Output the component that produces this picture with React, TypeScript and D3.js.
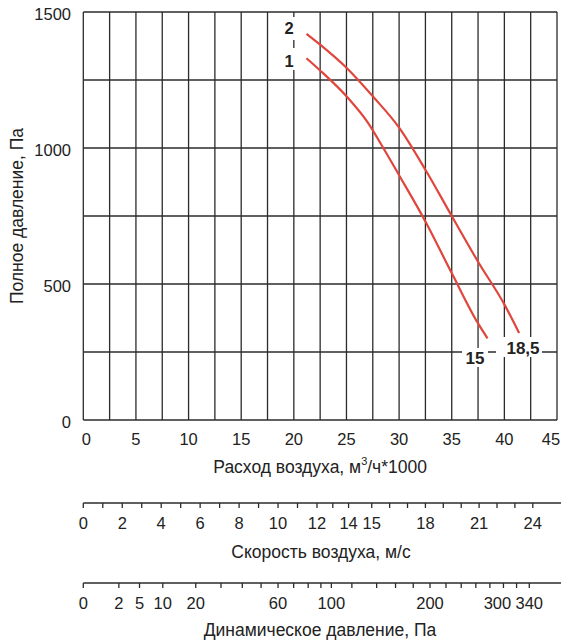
import React from 'react';
import * as d3 from 'd3';

// ---- data ----
const flowLabels = [0, 5, 10, 15, 20, 25, 30, 35, 40, 45];
const flowGrid = [0, 2.5, 5, 7.5, 10, 12.5, 15, 17.5, 20, 22.5, 25, 27.5, 30, 32.5, 35, 37.5, 40, 42.5, 45];
const pressureLabels = [0, 500, 1000, 1500];
const pressureGrid = [0, 250, 500, 750, 1000, 1250, 1500];

// curve "1" (15 kW) and curve "2" (18,5 kW): [flow x1000 m3/h, pressure Pa]
const curve1: [number, number][] = [
  [21.2, 1330], [22.5, 1285], [25, 1190], [27, 1095], [28.5, 1000], [30, 900],
  [32.5, 730], [35, 540], [37.5, 355], [38.4, 300],
];
const curve2: [number, number][] = [
  [21.2, 1420], [22.5, 1380], [25, 1295], [27.5, 1190], [30, 1075], [32.5, 920],
  [35, 750], [37.5, 582], [40, 425], [41.4, 320],
];

// speed axis (m/s) – ticks and the flow value each anchor sits over
const speedTicks = [0, 1, 2, 3, 4, 5, 6, 7, 8, 9, 10, 11, 12, 13, 14, 15, 16, 17, 18, 19, 20, 21, 22, 23, 24];
const speedLabels = [0, 2, 4, 6, 8, 10, 12, 14, 15, 18, 21, 24];
const speedAnchors = [0, 12, 14, 15, 24];
const speedAnchorFlow = [0, 22.2, 25.2, 27.4, 42.7];

// dynamic pressure axis (Pa)
const dynTicks = [0, 2, 5, 10, 20, 30, 40, 50, 60, 70, 80, 90, 100, 120, 140, 160, 180, 200, 220, 240, 260, 280, 300, 320, 340];
const dynLabels = [0, 2, 5, 10, 20, 60, 100, 200, 300, 340];

export default function App() {
  const W = 561, H = 640;
  const x = d3.scaleLinear().domain([0, 45]).range([83.3, 557]);
  const y = d3.scaleLinear().domain([0, 1500]).range([420, 12]);
  const speedToFlow = d3.scaleLinear().domain(speedAnchors).range(speedAnchorFlow);
  const sx = (v: number) => x(speedToFlow(v));
  const dx = (p: number) => sx(Math.sqrt(p / 0.6));

  const line = d3.line<[number, number]>()
    .x(d => x(d[0]))
    .y(d => y(d[1]))
    .curve(d3.curveMonotoneX);

  const font = '"Liberation Sans", Arial, sans-serif';
  const gridColor = '#2b2b2b';
  const red = '#e0463c';
  const titleSize = 17.5;

  const speedY = 503;
  const dynY = 583;

  return (
    <svg width={W} height={H} style={{ position: 'absolute', left: 0, top: 0, background: '#fff' }} fontFamily={font}>
      <rect x={0} y={0} width={W} height={H} fill="#fff" />
      {/* grid */}
      {flowGrid.map(v => (
        <line key={'vx' + v} x1={x(v)} x2={x(v)} y1={y(0)} y2={y(1500)} stroke={gridColor} strokeWidth={1.3} />
      ))}
      {pressureGrid.map(v => (
        <line key={'hy' + v} x1={x(0)} x2={x(45)} y1={y(v)} y2={y(v)} stroke={gridColor} strokeWidth={1.3} />
      ))}

      {/* y tick labels */}
      {pressureLabels.map(v => (
        <text key={'yl' + v} x={71} y={y(v) + 2} textAnchor="end" dominantBaseline="central" fontSize={16.5} fill="#222">{v}</text>
      ))}
      {/* x tick labels */}
      {flowLabels.map((v, i) => (
        <text key={'xl' + v} x={i === 0 ? x(v) + 3 : i === flowLabels.length - 1 ? x(v) - 6 : x(v)} y={439}
          textAnchor="middle" dominantBaseline="central" fontSize={16.5} fill="#222">{v}</text>
      ))}

      {/* titles */}
      <text transform={`translate(17,${(y(0) + y(1500)) / 2}) rotate(-90)`} textAnchor="middle" dominantBaseline="central" fontSize={titleSize} fill="#222">Полное давление, Па</text>
      <text x={(x(0) + x(45)) / 2} y={467} textAnchor="middle" dominantBaseline="central" fontSize={titleSize} fill="#222">
        Расход воздуха, м<tspan fontSize={11} dy={-6}>3</tspan><tspan dy={6}>/ч*1000</tspan>
      </text>

      {/* curves */}
      <path d={line(curve1) || ''} fill="none" stroke={red} strokeWidth={2.2} />
      <path d={line(curve2) || ''} fill="none" stroke={red} strokeWidth={2.2} />

      {/* curve labels with white background */}
      <rect x={280} y={17} width={22} height={23} fill="#fff" />
      <rect x={280} y={48} width={22} height={22} fill="#fff" />
      <text x={289} y={28} textAnchor="middle" dominantBaseline="central" fontSize={16.5} fontWeight="bold" fill="#222">2</text>
      <text x={289} y={61} textAnchor="middle" dominantBaseline="central" fontSize={16.5} fontWeight="bold" fill="#222">1</text>

      <rect x={462} y={348} width={26} height={19} fill="#fff" />
      <rect x={496} y={337} width={46} height={20} fill="#fff" />
      <text x={475} y={358} textAnchor="middle" dominantBaseline="central" fontSize={17} fontWeight="bold" fill="#222">15</text>
      <text x={523} y={348} textAnchor="middle" dominantBaseline="central" fontSize={17} fontWeight="bold" fill="#222">18,5</text>

      {/* speed axis */}
      <line x1={x(0)} x2={W} y1={speedY} y2={speedY} stroke={gridColor} strokeWidth={1.5} />
      {speedTicks.map(v => (
        <line key={'st' + v} x1={sx(v)} x2={sx(v)} y1={speedY} y2={speedY + 5} stroke={gridColor} strokeWidth={1.3} />
      ))}
      {speedLabels.map(v => (
        <text key={'sl' + v} x={sx(v)} y={523} textAnchor="middle" dominantBaseline="central" fontSize={16.5} fill="#222">{v}</text>
      ))}
      <text x={321} y={552} textAnchor="middle" dominantBaseline="central" fontSize={titleSize} fill="#222">Скорость воздуха, м/с</text>

      {/* dynamic pressure axis */}
      <line x1={x(0)} x2={W} y1={dynY} y2={dynY} stroke={gridColor} strokeWidth={1.5} />
      {dynTicks.map(v => (
        <line key={'dt' + v} x1={dx(v)} x2={dx(v)} y1={dynY} y2={dynY + 5} stroke={gridColor} strokeWidth={1.3} />
      ))}
      {dynLabels.map(v => (
        <text key={'dl' + v} x={v === 300 ? dx(v) - 6 : dx(v)} y={603} textAnchor="middle" dominantBaseline="central" fontSize={16.5} fill="#222">{v}</text>
      ))}
      <text x={320} y={630} textAnchor="middle" dominantBaseline="central" fontSize={titleSize} fill="#222">Динамическое давление, Па</text>
    </svg>
  );
}
